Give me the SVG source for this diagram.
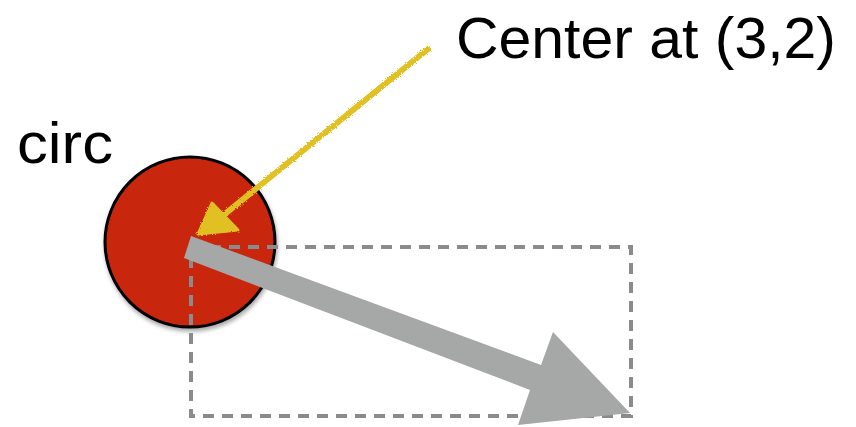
<svg xmlns="http://www.w3.org/2000/svg" width="856" height="427" viewBox="0 0 856 427">
<defs>
<style>
.lbl{font-family:"Liberation Sans",Arial,sans-serif;font-size:57px;fill:#000;}
</style>
<filter id="sh" x="-20%" y="-20%" width="140%" height="140%">
<feGaussianBlur in="SourceAlpha" stdDeviation="2"/>
<feOffset dx="1" dy="3"/>
<feComponentTransfer><feFuncA type="linear" slope="0.35"/></feComponentTransfer>
<feMerge><feMergeNode/><feMergeNode in="SourceGraphic"/></feMerge>
</filter>
<filter id="rough" x="-10%" y="-10%" width="120%" height="120%">
<feTurbulence type="fractalNoise" baseFrequency="0.8" numOctaves="2" seed="3"/>
<feDisplacementMap in="SourceGraphic" scale="3"/>
</filter>
</defs>
<g id="circ">
<circle cx="190" cy="242" r="85" fill="#c8260a" stroke="#000" stroke-width="3" filter="url(#sh)"/>
<text class="lbl" x="17" y="163" textLength="96" lengthAdjust="spacingAndGlyphs">circ</text>
</g>
<g id="box">
<rect x="191" y="247" width="440" height="169" fill="none" stroke="#8a8b8d" stroke-width="4" stroke-dasharray="11 8"/>
</g>
<g id="label">
<text class="lbl" x="456" y="58" textLength="380" lengthAdjust="spacingAndGlyphs">Center at (3,2)</text>
</g>
<g id="connectors">
<polygon points="191,236 541,365 553,332 630,413 518,425 530,390 184,258" fill="#a5a8a6"/>
<g filter="url(#rough)">
<line x1="428" y1="49" x2="220" y2="218" stroke="#e0c020" stroke-width="6" stroke-linecap="round"/>
<polygon points="198,234 212,203 238,230" fill="#e0c020" stroke="#e0c020" stroke-width="3" stroke-linejoin="round"/>
</g>
</g>
</svg>
